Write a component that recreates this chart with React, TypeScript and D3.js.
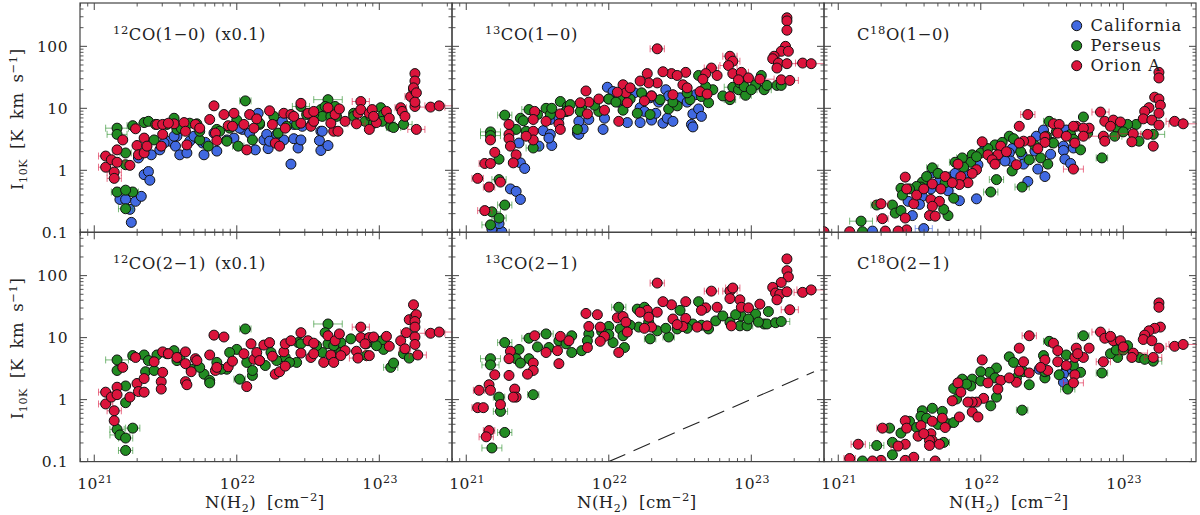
import React from "react";
import * as d3 from "d3";

type P = [number, number, number?];

// Each point: [log10 N(H2), log10 I10K, optional half-width of the N(H2) error bar in dex]
const co10Cal: P[] = [[21.26,-.84],[21.25,-.63],[21.29,-.5],[21.18,-.47],[21.22,-.47],[21.33,-.42],[21.35,-.07],[21.38,-.02],[21.39,-.16],[21.31,.2],[21.4,.25],[21.46,.33],[21.53,.47],[21.57,.39],[21.6,.25],[21.65,.28],[21.58,.55],[21.67,.47],[21.76,.44],[21.77,.25],[21.78,.45],[21.86,.31],[21.98,.52],[22.04,.66],[22.13,.33],[22.15,.92],[22.19,.49],[22.21,.58],[22.22,.35],[22.23,.47],[22.33,.49],[22.38,.1],[22.4,.51],[22.43,.36],[22.45,.49],[22.46,.71],[22.59,.63],[22.58,.48],[22.59,.32],[22.64,.4],[22.6,.63],[22.4,.74],[22.32,.79],[22.02,.68],[21.49,.44],[21.56,.55],[21.7,.55],[21.84,.6],[21.93,.49],[22.09,.6],[22.28,.58],[22.53,.76]];
const co10Per: P[] = [[21.16,.68,.08],[21.16,.58,.07],[21.22,.28,.04],[21.22,.09,.04],[21.27,.72,.04],[21.16,-.35,.04],[21.27,-.35,.04],[21.22,-.32,.04],[21.22,-.62,.05],[21.35,.77],[21.38,.79],[21.43,.74],[21.42,.49],[21.56,.84],[21.58,.66],[21.67,.76],[21.72,.75],[21.8,.39],[21.74,.49],[21.86,.66],[21.93,.47],[22,.81],[22.01,.39,.04],[22.06,1.12,.04],[22.11,.49],[22.16,.74],[22.26,.87],[22.29,.6],[22.42,.74],[22.45,1.03,.06],[22.49,.9],[22.59,.98],[22.6,.87],[22.64,1.14,.1],[22.62,1.03],[22.66,.87],[22.69,1.03],[22.9,.79],[22.94,.87],[23.01,1.01],[23.03,.9],[23.02,.79,.05],[23.08,.71],[23.1,.69,.05],[23.17,.74,.06],[22.82,.92],[22.96,.76],[21.51,.74],[21.61,.68],[21.74,.63],[21.88,.63],[21.95,.68],[22.16,.76],[22.35,.71],[22.54,.9],[22.7,.87],[22.82,.87]];
const co10Ori: P[] = [[21.08,.05,.05],[21.08,.23,.05],[21.12,.17],[21.14,-.03,.05],[21.14,-.13,.05],[21.16,.33],[21.16,.13,.05],[21.2,.49],[21.25,.08],[21.29,.67],[21.3,.4],[21.31,.25],[21.35,.28],[21.35,.52],[21.37,.39],[21.44,.74],[21.47,.39],[21.48,.74],[21.48,.58],[21.56,.75],[21.63,.77],[21.64,.63],[21.65,.41],[21.71,.74],[21.81,.82],[21.84,1.04],[21.85,.6],[21.86,.48],[21.91,.9],[21.94,.72],[21.98,.92],[21.97,.71],[22.05,.74],[22.07,.33],[22.09,.9],[22.12,.68],[22.14,.83],[22.23,.96],[22.25,.74],[22.27,.44],[22.3,.39],[22.33,.92],[22.34,.68],[22.38,.9],[22.45,.76],[22.45,1.08],[22.52,.71],[22.5,.92],[22.54,.95],[22.54,.79],[22.64,1.01],[22.68,.63],[22.66,.76],[22.71,.63],[22.69,.9],[22.72,.99],[22.76,.79],[22.84,.75,.06],[22.85,.92],[22.87,1.11,.06],[22.87,.98],[22.93,.66],[22.93,.92],[22.95,.98],[22.98,.77],[23.05,.95],[23.07,.84],[23.15,1.01,.04],[23.16,.95],[23.18,.87],[23.22,1.19,.04],[23.24,1.31],[23.25,1.56],[23.25,1.44],[23.24,1.33],[23.26,1.25],[23.25,1.03],[23.25,1.1],[23.26,.66,.06],[23.36,1.02,.1],[23.42,1.04,.1],[21.52,.76],[21.74,.68],[22.4,.87],[22.96,.87]];

const c13o10Cal: P[] = [[21.18,-.95],[21.25,-.99],[21.23,-.86],[21.31,-.3],[21.35,-.34],[21.38,-.47],[21.38,.12],[21.41,.03],[21.37,.44],[21.51,.39],[21.6,.4],[21.54,.64],[21.59,.58],[21.58,.52],[21.78,.6],[21.79,.58],[21.82,.67],[21.79,.79],[21.86,.82],[21.96,.66],[21.97,.84],[21.59,.82],[21.99,1.34],[22.03,1.27],[22.13,.77],[22.22,.77],[22.22,1.01],[22.3,.81],[22.33,.92],[22.38,.76],[22.41,.84],[22.45,.79],[22.4,1.3],[22.5,1.17],[22.58,.74],[22.59,.7],[22.59,.91],[22.63,.99],[22.65,.87],[22.61,1.22],[22.29,1.17],[21.65,.85],[21.7,.95],[22,1.15],[22.07,1.1],[22.18,1.25],[22.25,.95],[22.35,1.1],[22.42,1.2],[22.55,1.1]];
const c13o10Per: P[] = [[21.27,.89,.05],[21.17,.62,.07],[21.17,.56,.07],[21.23,.18],[21.23,-.15,.05],[21.27,-.56,.05],[21.18,-.67,.06],[21.23,-.77,.05],[21.17,-.88,.06],[21.38,.84],[21.44,.98,.05],[21.35,.66],[21.42,.63],[21.47,.36,.05],[21.56,1],[21.59,.9],[21.66,1.11],[21.71,1.03],[21.73,1.06],[21.78,.66],[21.81,1.03],[21.93,.95],[22,1.15],[22.1,.97],[22.08,1.14],[22.2,.92],[22.23,1.25],[22.29,.9],[22.36,1.14],[22.42,.99],[22.48,1.04],[22.57,1.14],[22.63,1.53],[22.65,1.19],[22.7,1.09],[22.73,1.3],[22.85,1.14,.04],[22.87,1.34,.06],[22.91,1.3],[22.96,1.21,.04],[23.03,1.38],[23.09,1.3,.05],[23.11,1.37],[23.18,1.37],[23.21,1.37],[23.07,1.53],[22.92,1.41],[21.4,.8],[21.5,.9],[21.6,1],[21.7,.95],[21.8,.95],[21.9,1.05],[22.05,1.1],[22.15,1.15],[22.3,1.2],[22.45,1.1],[22.55,1.25],[22.68,1.35],[22.8,1.2],[22.95,1.35],[23,1.3]];
const c13o10Ori: P[] = [[22.34,1.96,.05],[23.25,2.46],[23.25,2.41],[23.25,2.26],[23.24,2],[23.21,1.92],[23.26,1.92],[23.16,1.84],[23.15,1.8],[23.19,1.73],[23.25,1.72],[23.36,1.73,.05],[23.42,1.72,.15],[23.18,1.65],[23.21,1.46],[23.27,1.45,.06],[22.85,1.84,.05],[22.87,1.76,.05],[22.84,1.69,.06],[22.87,1.56],[22.93,1.58,.05],[22.91,1.46],[22.98,1.49],[23.06,1.47,.1],[22.85,1.19],[22.72,1.65,.05],[22.68,1.56],[22.76,1.53],[22.66,1.47],[22.64,1.27],[22.69,1.23],[22.54,1.58],[22.44,1.56],[22.38,1.59],[22.48,1.53],[22.52,1.38],[22.55,1.33],[22.45,1.22],[22.27,1.56],[22.34,1.41],[22.28,1.41],[22.22,1.44],[22.3,1.2],[22.25,1.12],[22.1,1.38],[22.12,1.25],[22.06,1.26],[22.15,1.33],[22.13,1.09],[22.07,.79],[21.97,.97],[21.93,1.15],[21.86,1.1],[21.84,1.28],[21.8,1.09],[21.85,.91],[21.72,.96],[21.66,.91],[21.65,.75],[21.66,.66],[21.56,.79],[21.48,.95],[21.47,.82],[21.47,.63],[21.47,.49],[21.42,.55],[21.3,.74],[21.3,.58],[21.3,.51],[21.31,.39],[21.35,.25],[21.33,.12],[21.2,.29],[21.17,.49],[21.13,.11,.04],[21.17,.11],[21.08,-.13,.04],[21.16,-.27,.04],[21.24,-.19],[21.13,-.65,.05]];

const c18o10Cal: P[] = [[21.6,-.94,.06],[21.97,-.46],[21.85,-.49],[21.52,-.73],[21.66,-.04],[21.78,-.11],[21.76,-.15],[21.77,-.33,.04],[21.59,-.42],[21.57,-.55],[21.49,-.5],[22.03,.36],[21.98,.09],[22.22,.35],[22.2,.28],[22.21,.15],[22.29,.25],[22.39,.55],[22.38,.31],[22.4,.02],[22.33,-.18],[22.45,-.1],[22.44,.65],[22.49,.26],[22.6,.65],[22.58,.39],[22.58,.32],[22.59,.18],[22.63,.11],[22.65,.36],[22.17,.15],[21.24,-.98],[21.65,-.3],[21.7,-.2],[21.82,-.05],[21.9,-.05],[22.1,.2],[22.3,.1],[22.5,.45]];
const c18o10Per: P[] = [[22.72,.86],[22.48,.79,.04],[22.85,.2,.04],[23.21,.58,.08],[23.11,.47],[23.09,.74],[23.03,.74],[22.94,.55,.05],[22.63,.58],[22.7,.33],[22.51,.44],[22.47,.1],[22.42,.2],[22.34,.17,.04],[22.2,.55],[22.23,.51],[22.22,-.01],[22.29,-.27,.05],[22.11,-.15,.05],[22.07,-.35,.05],[22.1,.41],[22,.28],[21.94,.25],[21.93,.13],[21.87,.2,.04],[21.82,.13,.04],[21.66,.04,.04],[21.59,-.19],[21.58,-.27],[21.44,-.29],[21.38,-.56],[21.27,-.56,.04],[21.4,-.69],[21.44,-.65],[21.77,-.73],[21.74,-.63],[21.81,-.45],[21.16,-.82,.08],[21.17,-.99],[21.55,-.26],[21.45,-.4],[21.5,-.3],[21.62,-.1],[21.7,-.05],[21.75,-.2],[21.88,.05],[21.97,.22],[22.05,.35],[22.15,.45],[22.28,.3],[22.38,.4],[22.46,.55],[22.53,.62],[22.65,.5],[22.75,.6],[22.95,.7],[23,.62]];
const c18o10Ori: P[] = [[22.33,.9,.05],[22.27,.71],[22.01,.46],[23.25,1.58],[23.25,1.49],[23.22,1.18],[23.25,1.15],[23.26,1.05],[23.18,1.01],[23.15,.95],[23.25,.92],[23.14,.83],[23.2,.81],[23.25,.73],[23.21,.39],[23.36,.79,.06],[23.42,.75,.1],[22.84,.94,.06],[22.87,.79],[22.93,.81],[22.98,.78],[22.91,.71],[22.86,.55,.1],[22.87,.47],[23.07,.59,.1],[23.06,.46],[23.17,.58,.05],[22.67,.71],[22.65,.71],[22.76,.68],[22.72,.68],[22.72,.55],[22.66,.44],[22.51,.75],[22.55,.74],[22.54,.6],[22.45,.54],[22.45,.45],[22.35,.47],[22.3,.47],[22.27,.44],[22.25,.09],[22.65,.02,.07],[22.14,.39],[22.12,.25],[22.05,.25],[22.08,.17],[21.84,.1],[21.97,.01],[21.94,-.05],[21.91,-.2],[21.86,-.1],[21.85,-.23],[21.72,-.3],[21.66,-.22],[21.47,-.11],[21.48,-.3],[21.53,-.54],[21.65,-.47],[21.71,-.5],[21.66,-.58],[21.64,-.73],[21.68,-.74],[21.47,-.77],[21.31,-.78,.04],[21.3,-.54,.05],[21.48,-.96],[21.42,-.98],[21.33,-.98],[21.08,-.99],[20.9,-.99],[21.55,-.4],[21.6,-.3],[21.75,-.1],[21.8,-.2],[22.1,.1],[22.18,.3],[22.4,.35],[22.6,.55]];

const co21Per: P[] = [[21.16,.64,.08],[21.16,.47],[21.22,.22],[21.22,-.05],[21.27,.71],[21.27,-.46,.05],[21.16,-.48,.05],[21.18,-.57,.07],[21.22,-.62,.05],[21.22,-.82,.05],[21.35,.72],[21.38,.63],[21.44,.72],[21.36,.45],[21.42,.47],[21.56,.79],[21.58,.63],[21.68,.49],[21.77,.41],[21.81,.31],[21.81,.27],[21.86,.6],[21.93,.49],[22,.81],[22.02,.33,.04],[22.06,1.14,.04],[22.07,.6],[22.11,.39],[22.11,.47],[22.2,.55],[22.24,.76],[22.34,.68],[22.42,.6],[22.43,.92],[22.6,.76],[22.64,1.22,.1],[22.62,1.08],[22.64,.9],[22.7,.76],[22.91,.71],[23.02,.95],[23.03,.81],[23.08,.52,.05],[23.1,.59],[23.17,.74],[23.21,.67],[22.91,.9],[22.73,.92],[21.51,.74],[21.6,.68],[21.74,.52],[21.89,.49],[21.95,.76],[22.16,.63],[22.28,.63],[22.37,.6],[22.45,.9],[22.8,.98],[22.91,.98],[22.98,.87],[22.56,.87],[22.73,.76],[22.68,.87]];
const co21Ori: P[] = [[21.08,-.07,.05],[21.08,.12,.05],[21.12,.04],[21.14,-.18,.05],[21.14,-.34],[21.16,.2],[21.16,.08],[21.2,.52],[21.25,.04],[21.29,.68],[21.3,.26],[21.31,.13],[21.35,.12],[21.35,.34],[21.42,.61],[21.47,.29],[21.47,.17],[21.48,.44],[21.48,.77],[21.64,.77],[21.64,.58],[21.64,.29],[21.65,.24],[21.68,.45],[21.71,.66],[21.81,.72],[21.84,1.04],[21.91,1.01],[21.85,.47],[21.86,.52],[21.94,.53],[21.97,.62],[22.05,.74],[22.07,.21],[22.1,.9],[22.12,.65],[22.14,.76],[22.19,.88],[22.23,.92],[22.25,.7],[22.27,.41],[22.3,.45],[22.33,.77],[22.34,.9],[22.34,.54],[22.38,.95],[22.45,.75],[22.45,1.08],[22.52,.68],[22.5,.95],[22.54,.91],[22.54,.74],[22.61,.6],[22.64,1.03],[22.66,.72],[22.68,.6],[22.69,.95],[22.72,1.06],[22.76,.79],[22.84,.78,.06],[22.85,.67,.06],[22.87,1.17,.06],[22.87,1],[22.93,.71],[22.93,1],[23.05,1.02],[23.07,.86],[23.15,.95],[23.18,.82,.04],[23.19,1.08,.04],[23.21,1.29],[23.24,1.53],[23.25,1.34],[23.26,1.37],[23.25,1.26],[23.25,1.17],[23.25,1.01],[23.25,.89],[23.27,.72,.06],[23.36,1.07,.1],[23.42,1.09,.1],[21.52,.74],[21.58,.68],[21.72,.63],[22.96,1.01],[22.9,.9],[22.73,.71],[22.16,.63]];

const c13o21Per: P[] = [[21.27,.92,.05],[21.17,.66,.07],[21.17,.56,.06],[21.23,.04,.04],[21.24,-.19,.05],[21.27,-.53,.05],[21.18,-.78,.07],[21.44,.99,.05],[21.37,.81],[21.35,.66],[21.44,.66],[21.38,.59],[21.47,.08,.04],[21.56,1.06,.05],[21.58,.84],[21.74,1.03],[21.74,.76],[21.81,.79],[21.86,1.06],[22.03,.92],[22,1.18],[22.07,1.49,.05],[22.08,1.14],[22.1,1.03],[22.11,.84],[22.2,1.46],[22.25,1.49],[22.21,1.17],[22.29,.98,.04],[22.42,1.01,.04],[22.34,1.11],[22.48,1.14],[22.5,1.44],[22.63,1.58],[22.59,1.22],[22.7,1.14],[22.75,1.27],[22.85,1.25],[22.92,1.19],[22.97,1.19,.04],[22.93,1.35],[22.89,1.37],[23.03,1.38],[23.09,1.22,.05],[23.11,1.22],[23.12,1.42],[23.17,1.24],[23.21,1.26,.06],[21.5,.85],[21.65,.95],[21.7,.9],[21.85,.95],[21.95,1.1],[22,1.05],[22.15,1.2],[22.28,1.25],[22.4,1.15],[22.55,1.15],[22.65,1.2],[22.8,1.35],[22.98,1.3],[23.05,1.25]];
const c13o21Ori: P[] = [[22.34,1.88,.05],[23.25,2.27],[23.25,2.08],[23.26,1.98],[23.21,1.89],[23.15,1.81],[23.17,1.72],[23.2,1.7],[23.25,1.74],[23.18,1.61],[23.27,1.45,.06],[23.36,1.73,.06],[23.42,1.77,.1],[22.72,1.75,.05],[22.85,1.75,.05],[22.87,1.8,.05],[22.85,1.63],[22.92,1.61],[22.93,1.49],[22.98,1.48],[23.06,1.54],[22.86,1.19],[22.76,1.49],[22.68,1.48],[22.65,1.44],[22.69,1.19],[22.62,1.17],[22.54,1.58],[22.44,1.53],[22.38,1.58],[22.45,1.3],[22.54,1.31],[22.52,1.18],[22.48,1.21],[22.27,1.44],[22.34,1.41],[22.28,1.33],[22.22,1.41],[22.3,1.17],[22.25,1.15],[22.06,1.32],[22.1,1.34],[22.12,1.25],[22.13,1.09],[22.07,.76],[21.97,1.02],[21.94,1.17],[21.94,.94],[21.92,1.37],[21.84,1.39],[21.86,1.18],[21.85,.84],[21.72,.95],[21.66,1.02],[21.64,.79],[21.65,.58],[21.56,.76],[21.48,1.03],[21.47,.59],[21.47,.47],[21.43,.41],[21.31,.78],[21.3,.66],[21.3,.39],[21.2,.4],[21.34,.17],[21.35,.04],[21.33,.04],[21.16,.24],[21.17,.15],[21.09,.15,.04],[21.08,-.13,.04],[21.12,-.13],[21.24,-.08],[21.16,-.5,.04],[21.14,-.6,.05]];

const c18o21Cal: P[] = [[22.6,.48],[22.58,.41],[22.58,.28],[22.41,.49]];
const c18o21Per: P[] = [[22.72,1.03,.04],[22.48,.94,.04],[22.85,.43,.04],[23.21,.62,.06],[23.11,.68],[23.03,.87],[22.96,.68],[22.91,.74],[22.6,.72],[22.7,.44],[22.61,.17,.05],[22.45,.35],[22.34,.24],[22.44,.71],[22.2,.69],[22.23,.6],[22.29,-.17,.04],[22.11,.04],[22.07,-.1],[22.11,.51],[22.06,.44],[22,.45],[21.94,.33],[21.93,.22],[21.87,.33],[21.81,.18],[21.83,.01],[21.66,-.14],[21.73,-.19],[21.59,-.18],[21.58,-.27],[21.77,-.39],[21.81,-.37],[21.36,-.46],[21.44,-.54],[21.27,-.74,.05],[21.38,-.69],[21.38,-.89],[21.74,-.69,.04],[21.17,-.99],[21.5,-.35],[21.55,-.45],[21.62,-.3],[21.7,-.4],[21.9,.25],[22,.3],[22.1,.35],[22.25,.35],[22.3,.45],[22.45,.45],[22.55,.4],[22.65,.55],[22.95,.8],[23,.8],[23.15,.65]];
const c18o21Ori: P[] = [[22.34,1.03,.05],[22.27,.83],[22.01,.64],[23.25,1.56],[23.25,1.49],[23.26,1.17],[23.22,1.15],[23.18,1.11],[23.15,1.04],[23.14,.97],[23.2,.95],[23.25,.83],[23.21,.68,.06],[23.36,.86,.06],[23.42,.89,.1],[22.84,1.09,.06],[22.87,.99],[22.93,.95],[22.98,.95],[22.91,1.02],[22.86,.61,.05],[23.07,.75,.1],[23.06,.68],[22.67,.83],[22.66,.68],[22.76,.83],[22.72,.68],[22.68,.74],[22.66,.4],[22.65,.27,.07],[22.51,.91],[22.54,.79],[22.54,.61],[22.45,.64],[22.47,.47],[22.34,.43],[22.27,.46],[22.3,.61],[22.25,.28],[22.14,.31],[22.12,.17],[22.05,.27],[21.84,.27],[21.86,.12],[21.8,-.02],[22.02,.02],[21.97,-.04],[21.94,-.04],[21.91,-.04],[21.94,-.2],[21.98,-.28],[21.85,-.28],[21.73,-.3],[21.66,-.35],[21.58,-.42],[21.47,-.34],[21.48,-.46],[21.56,-.59],[21.65,-.55],[21.66,-.66],[21.64,-.66],[21.64,-.74],[21.71,-.72],[21.47,-.72],[21.42,-.75,.05],[21.31,-.46,.04],[21.14,-.72,.05],[21.53,-.93],[21.47,-.98],[21.3,-.98],[21.24,-.99],[21.68,-.99],[21.08,-.95,.04],[21.6,-.55],[21.75,-.45],[22.2,.35],[22.42,.52],[22.6,.55],[23,.85]];

const regionNames = ["California", "Perseus", "Orion A"];
const regionColors = ["#4169e1", "#228b22", "#dc143c"];
const yTickValues = [0.1, 1, 10, 100];
const yTickLabels = ["0.1", "1", "10", "100"];
const xDecades = [21, 22, 23];
const dashLogN = [22, 23.44];
const dashLogI = [-1, 0.45];

const panelDefs = [
  { iso: "12", pre: "", post: "CO(1−0) (x0.1)", series: [co10Cal, co10Per, co10Ori] },
  { iso: "13", pre: "", post: "CO(1−0)", series: [c13o10Cal, c13o10Per, c13o10Ori] },
  { iso: "18", pre: "C", post: "O(1−0)", series: [c18o10Cal, c18o10Per, c18o10Ori] },
  { iso: "12", pre: "", post: "CO(2−1) (x0.1)", series: [[], co21Per, co21Ori] },
  { iso: "13", pre: "", post: "CO(2−1)", series: [[], c13o21Per, c13o21Ori] },
  { iso: "18", pre: "C", post: "O(2−1)", series: [c18o21Cal, c18o21Per, c18o21Ori] },
];

const FONT = "'DejaVu Serif', serif";
const FRAME = "#444";
const INK = "#222";
const panelW = 372;
const panelH = 229.3;
const left0 = 80;
const top0 = 3;
const xDomain: [number, number] = [Math.pow(10, 20.9), Math.pow(10, 23.51)];
const yDomain: [number, number] = [0.1, 500];

function pow10(v: number) {
  return Math.pow(10, v);
}

function minorTicks(lo: number, hi: number) {
  const out: number[] = [];
  for (let e = lo; e <= hi; e++) for (let m = 2; m <= 9; m++) out.push(m * Math.pow(10, e));
  return out;
}
const yMinor = minorTicks(-1, 2).filter((v) => v < 500);
const xMinor = minorTicks(20, 23).filter((v) => v > xDomain[0] && v < xDomain[1]);

function Panel({ idx }: { idx: number }) {
  const def = panelDefs[idx];
  const col = idx % 3;
  const row = Math.floor(idx / 3);
  const L = left0 + col * panelW;
  const T = top0 + row * panelH;
  const x = d3.scaleLog().domain(xDomain).range([L, L + panelW]);
  const y = d3.scaleLog().domain(yDomain).range([T + panelH, T]);
  const clipId = `clip${idx}`;
  const dashed = d3
    .line<number>()
    .x((v) => x(pow10(v)))
    .y((_, i) => y(pow10(dashLogI[i])));

  const xMajor = xDecades.map(pow10);
  return (
    <g>
      <clipPath id={clipId}>
        <rect x={L - 1} y={T} width={panelW + 2} height={panelH} />
      </clipPath>
      <g clipPath={`url(#${clipId})`}>
        {idx === 4 && (
          <path d={dashed(dashLogN) || ""} fill="none" stroke="#222" strokeWidth={1.1} strokeDasharray="18 9" />
        )}
        {def.series.map((pts, s) => (
          <g key={s}>
            {(pts as P[]).map((p, i) => {
              if (!p[2]) return null;
              const x0 = x(pow10(p[0] - p[2]));
              const x1 = x(pow10(p[0] + p[2]));
              const yy = y(pow10(p[1]));
              return (
                <path
                  key={i}
                  d={`M${x0},${yy}H${x1}M${x0},${yy - 3.5}V${yy + 3.5}M${x1},${yy - 3.5}V${yy + 3.5}`}
                  fill="none"
                  stroke={regionColors[s]}
                  strokeOpacity={0.6}
                  strokeWidth={1}
                />
              );
            })}
            {(pts as P[]).map((p, i) => (
              <circle
                key={i}
                cx={x(pow10(p[0]))}
                cy={y(pow10(p[1]))}
                r={5}
                fill={regionColors[s]}
                stroke="#111"
                strokeWidth={1}
              />
            ))}
          </g>
        ))}
      </g>
      <rect x={L} y={T} width={panelW} height={panelH} fill="none" stroke={FRAME} strokeWidth={1.2} />
      {xMajor.map((v) => (
        <path key={v} d={`M${x(v)},${T}v7M${x(v)},${T + panelH}v-7`} stroke={FRAME} strokeWidth={1} />
      ))}
      {xMinor.map((v) => (
        <path key={v} d={`M${x(v)},${T}v3.5M${x(v)},${T + panelH}v-3.5`} stroke={FRAME} strokeWidth={0.9} />
      ))}
      {yTickValues.map((v) => (
        <path key={v} d={`M${L},${y(v)}h7M${L + panelW},${y(v)}h-7`} stroke={FRAME} strokeWidth={1} />
      ))}
      {yMinor.map((v) => (
        <path key={v} d={`M${L},${y(v)}h3.5M${L + panelW},${y(v)}h-3.5`} stroke={FRAME} strokeWidth={0.9} />
      ))}
      <text x={L + 33} y={T + 37} fontFamily={FONT} fontSize={16.3} fill={INK} letterSpacing={0.6} wordSpacing={3}>
        {def.pre}
        <tspan dy={-6.5} fontSize={11.5}>{def.iso}</tspan>
        <tspan dy={6.5}>{def.post}</tspan>
      </text>
      {col === 0 &&
        yTickValues.map((v, i) => (
          <text key={v} x={L - 12} y={y(v) + 5.5} textAnchor="end" fontFamily={FONT} fontSize={15.5} fill={INK} letterSpacing={0.5}>
            {yTickLabels[i]}
          </text>
        ))}
      {col === 0 && (
        <text
          transform={`translate(23,${T + 187}) rotate(-90)`}
          fontFamily={FONT}
          fontSize={16.5}
          fill={INK}
          letterSpacing={0.6}
          wordSpacing={4}
        >
          I<tspan dy={4} fontSize={11}>10K</tspan>
          <tspan dy={-4}> [K km s</tspan>
          <tspan dy={-6.5} fontSize={11.5}>−1</tspan>
          <tspan dy={6.5}>]</tspan>
        </text>
      )}
      {row === 1 &&
        xDecades.map((e) => (
          <text key={e} x={x(pow10(e)) - 17} y={T + panelH + 27} fontFamily={FONT} fontSize={15.5} fill={INK} letterSpacing={0.5}>
            10<tspan dy={-6} fontSize={11}>{e}</tspan>
          </text>
        ))}
      {row === 1 && (
        <text x={L + 125} y={T + panelH + 46} fontFamily={FONT} fontSize={16.5} fill={INK} letterSpacing={0.5} wordSpacing={5}>
          N(H<tspan dy={4} fontSize={11}>2</tspan>
          <tspan dy={-4}>) [cm</tspan>
          <tspan dy={-6.5} fontSize={11.5}>−2</tspan>
          <tspan dy={6.5}>]</tspan>
        </text>
      )}
    </g>
  );
}

export default function App() {
  const legendX = 1076.7;
  const legendY = [25.7, 45.7, 65.7];
  return (
    <svg width={1200} height={515} viewBox="0 0 1200 515" style={{ position: "absolute", left: 0, top: 0, display: "block", background: "#fff" }}>
      {panelDefs.map((_, i) => (
        <Panel key={i} idx={i} />
      ))}
      {regionNames.map((n, i) => (
        <g key={n}>
          <circle cx={legendX} cy={legendY[i]} r={5} fill={regionColors[i]} stroke="#111" strokeWidth={1} />
          <text x={1090.5} y={legendY[i] + 5} fontFamily={FONT} fontSize={16.3} fill={INK} letterSpacing={1}>
            {n}
          </text>
        </g>
      ))}
    </svg>
  );
}
